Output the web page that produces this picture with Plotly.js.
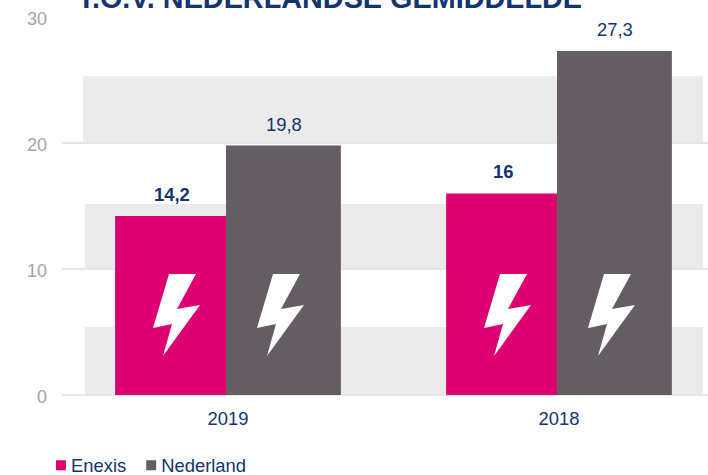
<!DOCTYPE html>
<html>
<head>
<meta charset="utf-8">
<script src="https://cdn.plot.ly/plotly-3.0.1.min.js"></script>
<style>html,body{margin:0;padding:0;background:#fff;overflow:hidden}</style>
</head>
<body>
<div id="chart" style="width:708px;height:475px"></div>
<script>
const categories = ["2019", "2018"];
const enexisValues = [14.2, 16];
const nederlandValues = [19.8, 27.3];
const yTicks = [0, 10, 20, 30];
const bandRanges = [[20.05, 25.3], [10.05, 15.15], [0.05, 5.4]];
const bandStarts = [-0.438, -0.432, -0.432];
const titleText = "T.O.V. NEDERLANDSE GEMIDDELDE";
const navy = "#14346F";
const pink = "#DE0070";
const grey = "#645D63";
const boltPath = "M-59,121 L-32,121 L-51,86 L-28,90 L-65,39 L-56,71 L-75,67 Z";
const boltShift = 104;

const fmt = v => String(v).replace(".", ",");
const traces = [
  {type: "bar", name: "Enexis", x: [0, 1], y: enexisValues, offset: -0.341, width: 0.335, marker: {color: pink}, hoverinfo: "skip"},
  {type: "bar", name: "Nederland", x: [0, 1], y: nederlandValues, offset: -0.006, width: 0.347, marker: {color: grey}, hoverinfo: "skip"}
];
const annotations = [];
[0, 1].forEach(i => {
  annotations.push({x: i - 0.168, y: enexisValues[i], text: "<b>" + fmt(enexisValues[i]) + "</b>", showarrow: false,
    yanchor: "bottom", yshift: 9, font: {family: "Liberation Sans", size: 18.4, color: navy}});
  annotations.push({x: i + 0.168, y: nederlandValues[i], text: fmt(nederlandValues[i]), showarrow: false,
    yanchor: "bottom", yshift: 9, font: {family: "Liberation Sans", size: 18.4, color: navy}});
});
const shapes = bandRanges.map((r, k) => ({type: "rect", layer: "below", xref: "x", yref: "y",
  x0: bandStarts[k], x1: 1.435, y0: r[0], y1: r[1], fillcolor: "#EBEBEB", line: {width: 0}}));
[0, 1].forEach(i => {
  [0, boltShift].forEach(dx => {
    shapes.push({type: "path", layer: "above", xref: "x", yref: "y", xsizemode: "pixel", ysizemode: "pixel",
      xanchor: i, yanchor: 0, fillcolor: "#FFFFFF", line: {width: 0},
      path: boltPath.replace(/(-?\d+),(-?\d+)/g, (m, a, b) => (Number(a) + dx) + "," + b)});
  });
});
const layout = {
  width: 708, height: 475,
  margin: {l: 62, r: 0, t: 17, b: 80, autoexpand: false},
  paper_bgcolor: "#fff", plot_bgcolor: "rgba(0,0,0,0)",
  font: {family: "Liberation Sans", size: 18},
  title: {text: "<b>" + titleText + "</b>", x: 77.5 / 708, xanchor: "left", y: 1, yanchor: "middle",
    font: {family: "Liberation Sans", size: 28.8, color: navy}},
  barmode: "overlay",
  xaxis: {type: "linear", range: [-0.5015, 1.4502], tickvals: [0, 1], ticktext: categories, showgrid: false, zeroline: false,
    ticks: "", ticklabelstandoff: 11, tickfont: {family: "Liberation Sans", size: 18.4, color: navy}, showline: false},
  yaxis: {range: [0, 30], tickvals: yTicks, showgrid: true, gridcolor: "#E6E6E6", gridwidth: 2, zeroline: true, zerolinecolor: "#E6E6E6", zerolinewidth: 2,
    ticks: "", ticklabelstandoff: 14, tickfont: {family: "Liberation Sans", size: 18, color: "#A8A3A8"}, showline: false},
  legend: {orientation: "h", x: -0.048, xanchor: "left", y: -0.137, yref: "paper", yanchor: "top", traceorder: "normal",
    font: {family: "Liberation Sans", size: 18.4, color: navy}, bgcolor: "rgba(0,0,0,0)"},
  annotations, shapes
};
const nudge = (el, attr, d) => el.setAttribute(attr, parseFloat(el.getAttribute(attr) || 0) + d);
Plotly.newPlot("chart", traces, layout, {displayModeBar: false, staticPlot: true}).then(() => {
  document.querySelectorAll(".legend .legendpoints path").forEach(p => p.setAttribute("transform", "translate(30,0) scale(0.83)"));
  const items = document.querySelectorAll(".legend .traces");
  if (items[1]) {
    const m = /translate\(([-\d.]+),\s*([-\d.]+)\)/.exec(items[1].getAttribute("transform"));
    if (m) items[1].setAttribute("transform", "translate(" + (parseFloat(m[1]) - 10) + "," + m[2] + ")");
  }
  document.querySelectorAll(".ytick text").forEach(t => nudge(t, "y", 1.5));
  document.querySelectorAll(".gtitle").forEach(t => nudge(t, "y", -2));
});
</script>
</body>
</html>
